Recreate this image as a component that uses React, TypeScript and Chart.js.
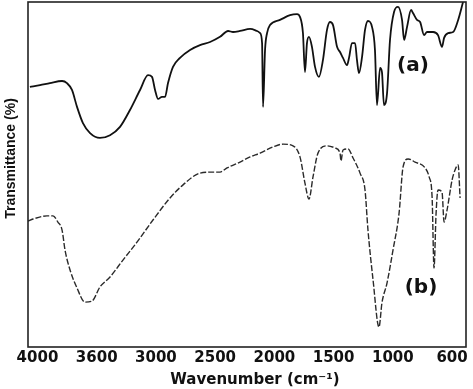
import React, { useEffect, useRef } from "react";
import { Chart, registerables, LinearScale } from "chart.js";

// ---- Data ----
const TICK_VALUES = [4000, 3600, 3000, 2500, 2000, 1500, 1000, 600];
const TICK_LABELS = ["4000", "3600", "3000", "2500", "2000", "1500", "1000", "600"];
const X_MIN = 4064;
const X_MAX = 506;

const A_WAVENUMBER = [4051, 3983, 3916, 3834, 3801, 3767, 3733, 3693, 3645, 3567, 3465, 3364, 3263, 3161, 3080, 3040, 3009, 2982, 2949, 2923, 2898, 2856, 2797, 2712, 2628, 2543, 2459, 2391, 2349, 2290, 2205, 2146, 2121, 2104, 2096, 2079, 2062, 2037, 1953, 1868, 1809, 1784, 1759, 1742, 1725, 1708, 1683, 1657, 1624, 1590, 1556, 1531, 1505, 1471, 1446, 1421, 1387, 1370, 1345, 1319, 1303, 1286, 1260, 1235, 1210, 1176, 1151, 1134, 1108, 1092, 1075, 1049, 1024, 992, 965, 938, 924, 904, 877, 864, 837, 816, 789, 769, 728, 695, 668, 654, 627, 593, 559, 526];
const A_TRANSMITTANCE = [75.4, 75.9, 76.5, 77.1, 76.5, 74.5, 69.6, 64.9, 62.0, 60.6, 61.4, 63.8, 68.7, 74.5, 78.8, 78.3, 74.5, 71.9, 72.5, 72.5, 76.5, 81.2, 83.8, 86.1, 87.5, 88.4, 89.9, 91.6, 91.3, 91.6, 92.2, 91.6, 91.0, 88.1, 69.6, 86.1, 91.0, 93.3, 94.8, 96.2, 96.5, 95.7, 91.0, 79.7, 88.1, 89.9, 87.0, 81.2, 78.3, 83.2, 91.9, 94.2, 93.3, 87.0, 85.5, 83.8, 81.7, 83.8, 88.1, 88.1, 83.2, 79.4, 84.1, 91.9, 94.5, 92.8, 86.1, 70.1, 80.9, 79.7, 70.1, 73.6, 89.0, 97.1, 98.6, 94.8, 89.0, 92.8, 97.7, 96.8, 94.8, 94.2, 90.4, 91.3, 91.3, 90.4, 87.0, 89.6, 91.0, 91.3, 94.8, 100];

const B_WAVENUMBER = [4064, 4030, 3936, 3895, 3862, 3834, 3814, 3780, 3733, 3679, 3632, 3567, 3465, 3334, 3192, 3030, 2881, 2771, 2628, 2518, 2459, 2400, 2290, 2205, 2121, 2011, 1927, 1843, 1784, 1742, 1708, 1674, 1632, 1556, 1488, 1446, 1438, 1421, 1378, 1336, 1277, 1235, 1210, 1167, 1117, 1092, 1049, 999, 958, 931, 897, 850, 782, 755, 735, 722, 708, 695, 668, 654, 634, 600, 580, 559, 546];
const B_TRANSMITTANCE = [36.5, 37.1, 38.0, 38.0, 36.2, 33.9, 28.1, 22.3, 17.1, 13.0, 13.3, 17.4, 20.3, 25.2, 30.4, 36.8, 43.2, 47.0, 50.4, 50.7, 50.7, 51.9, 53.6, 55.1, 56.2, 58.0, 58.8, 58.3, 55.1, 47.5, 42.9, 49.3, 56.2, 58.3, 57.7, 56.2, 53.9, 57.1, 57.4, 54.8, 50.4, 45.5, 33.9, 19.4, 5.8, 12.8, 18.6, 28.1, 38.8, 52.2, 54.5, 53.6, 51.9, 49.3, 43.5, 22.9, 38.8, 45.5, 44.9, 36.2, 39.7, 48.4, 51.3, 52.8, 43.2];

const SERIES_LABELS = ["(a)", "(b)"];
const LABEL_WAVENUMBER = [864, 810];
const LABEL_TRANSMITTANCE = [81.4, 17.1];

const X_TITLE = "Wavenumber (cm\u207B\u00B9)";
const Y_TITLE = "Transmittance (%)";

// Piecewise wavenumber axis: the labelled ticks are evenly spaced
function wnToPos(wn: number): number {
  const t = TICK_VALUES;
  const n = t.length;
  if (wn >= t[0]) return (t[0] - wn) / (t[0] - t[1]);
  for (let i = 0; i < n - 1; i++) {
    if (wn >= t[i + 1]) return i + (t[i] - wn) / (t[i] - t[i + 1]);
  }
  return n - 2 + (t[n - 2] - wn) / (t[n - 2] - t[n - 1]);
}

class WavenumberScale extends LinearScale {
  static id = "wavenumber";
  parse(raw: any, index?: number): any {
    const v: any = super.parse(raw, index as any);
    return v === null || v === undefined ? v : wnToPos(v as number);
  }
}

Chart.register(...registerables, WavenumberScale as any);

const decorPlugin = {
  id: "ftirDecor",
  afterDraw(chart: any) {
    const { ctx, chartArea } = chart;
    const { left, top, right, bottom } = chartArea;
    const xs = chart.scales.x;
    const ys = chart.scales.y;
    ctx.save();
    ctx.strokeStyle = "#222";
    ctx.lineWidth = 1.6;
    ctx.strokeRect(left, top, right - left, bottom - top);

    ctx.fillStyle = "#111";
    ctx.textAlign = "center";
    ctx.textBaseline = "middle";
    ctx.font = 'bold 20px "DejaVu Sans"';
    SERIES_LABELS.forEach((lab, i) => {
      ctx.fillText(
        lab,
        xs.getPixelForValue(xs.parse(LABEL_WAVENUMBER[i])),
        ys.getPixelForValue(LABEL_TRANSMITTANCE[i])
      );
    });

    ctx.font = 'bold 15px "DejaVu Sans"';
    ctx.fillText(X_TITLE, (left + right) / 2 + 8, bottom + 33);

    ctx.translate(left - 17, (top + bottom) / 2 - 16);
    ctx.rotate(-Math.PI / 2);
    ctx.font = 'bold 14px "Liberation Sans"';
    ctx.fillText(Y_TITLE, 0, 0);
    ctx.restore();
  },
};

export default function App() {
  const ref = useRef<HTMLCanvasElement>(null);
  useEffect(() => {
    const canvas = ref.current;
    if (!canvas) return;
    const chart = new Chart(canvas, {
      type: "line",
      data: {
        datasets: [
          {
            label: "(a)",
            data: A_WAVENUMBER.map((x, i) => ({ x, y: A_TRANSMITTANCE[i] })),
            borderColor: "#111",
            borderWidth: 1.8,
            pointRadius: 0,
            cubicInterpolationMode: "monotone",
            fill: false,
          },
          {
            label: "(b)",
            data: B_WAVENUMBER.map((x, i) => ({ x, y: B_TRANSMITTANCE[i] })),
            borderColor: "#2a2a2a",
            borderWidth: 1.4,
            borderDash: [6, 2],
            pointRadius: 0,
            cubicInterpolationMode: "monotone",
            fill: false,
          },
        ],
      },
      options: {
        animation: false,
        responsive: false,
        layout: { padding: { left: 28, right: 7, top: 2, bottom: 0 } },
        plugins: { legend: { display: false }, tooltip: { enabled: false } },
        scales: {
          x: {
            type: "wavenumber" as any,
            min: X_MIN,
            max: X_MAX,
            bounds: "data",
            grid: { display: false, drawTicks: false },
            border: { display: false },
            afterFit: (s: any) => {
              s.height = 42;
            },
            afterBuildTicks: (s: any) => {
              s.ticks = TICK_VALUES.map((v) => ({ value: s.parse(v) }));
            },
            ticks: {
              autoSkip: false,
              maxRotation: 0,
              padding: 2,
              color: "#111",
              font: { family: "DejaVu Sans", weight: "bold", size: 15 },
              callback: (_v: any, i: number) => TICK_LABELS[i],
            },
          } as any,
          y: {
            type: "linear",
            display: false,
            min: 0,
            max: 100,
          },
        },
      },
      plugins: [decorPlugin],
    });
    return () => chart.destroy();
  }, []);
  return (
    <div style={{ position: "fixed", left: 0, top: 0, width: 473, height: 389, background: "#fff" }}>
      <canvas ref={ref} width={473} height={389} style={{ display: "block", width: 473, height: 389 }} />
    </div>
  );
}
